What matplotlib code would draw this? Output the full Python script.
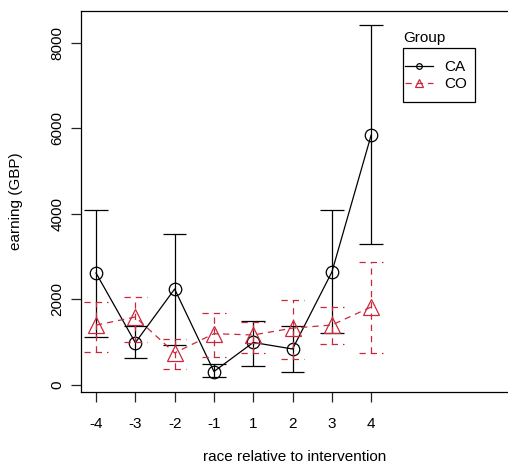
import matplotlib.pyplot as plt
from matplotlib.patches import Rectangle
import numpy as np

plt.rcParams['font.family'] = ['Liberation Sans', 'DejaVu Sans']

# races relative to the intervention
races = ["-4", "-3", "-2", "-1", "1", "2", "3", "4"]

# CA group: mean earning and interval ends
ca_mean = [2620, 990, 2245, 315, 995, 842, 2643, 5848]
ca_lo = [1123, 632, 936, 180, 444, 300, 1216, 3298]
ca_hi = [4094, 1390, 3532, 491, 1497, 1380, 4094, 8421]

# CO group
co_mean = [1400, 1590, 750, 1200, 1170, 1330, 1403, 1825]
co_lo = [772, 1006, 374, 655, 749, 608, 959, 749]
co_hi = [1942, 2058, 1076, 1684, 1470, 1988, 1825, 2877]

red = "#c8283c"
dash = (0, (5, 4))

fig = plt.figure(figsize=(5.08, 4.63), dpi=100)
ax = fig.add_axes([81 / 508, 1 - 392 / 463, 1 - 81 / 508, (392 - 11) / 463])

x = np.arange(1, len(races) + 1)
cap = 0.3

# CA: solid black
ax.vlines(x, ca_lo, ca_hi, color="black", lw=0.9)
ax.hlines(ca_lo, x - cap, x + cap, color="black", lw=0.9)
ax.hlines(ca_hi, x - cap, x + cap, color="black", lw=0.9)
ax.plot(x, ca_mean, color="black", lw=0.9, marker="o", ms=9,
        mfc="none", mec="black", mew=0.9, label="CA")

# CO: dashed red
ax.vlines(x, co_lo, co_hi, color=red, lw=0.9, linestyles=[dash])
ax.hlines(co_lo, x - cap, x + cap, color=red, lw=0.9, linestyles=[dash])
ax.hlines(co_hi, x - cap, x + cap, color=red, lw=0.9, linestyles=[dash])
ax.plot(x, co_mean, color=red, lw=0.9, ls=dash, marker="^", ms=12,
        mfc="none", mec=red, mew=0.9, label="CO")

ax.set_xlim(0.618, 11.48)
ax.set_ylim(-164, 8748)
ax.set_xticks(x)
ax.set_xticklabels(races)
ax.set_yticks([0, 2000, 4000, 6000, 8000])

ax.spines["right"].set_visible(False)
for s in ["top", "left", "bottom"]:
    ax.spines[s].set_linewidth(0.9)
ax.tick_params(axis="both", length=7, width=0.9, labelsize=11, color="#222222")
ax.tick_params(axis="x", pad=11)
ax.tick_params(axis="y", pad=5)
for lab in ax.get_yticklabels():
    lab.set_rotation(90)
    lab.set_va("center")

ax.set_xlabel("race relative to intervention", fontsize=11, labelpad=14)
ax.set_ylabel("earning (GBP)", fontsize=11, labelpad=20)

# legend: title above an R-style box
leg = ax.legend(loc="upper left", bbox_to_anchor=(405 / 508, 1 - 60 / 463),
                bbox_transform=fig.transFigure, borderaxespad=0, borderpad=0,
                frameon=False, fontsize=11, handlelength=1.85,
                handletextpad=0.75, labelspacing=0.2, markerscale=0.45)
fig.patches.append(Rectangle((403 / 508, 1 - 102 / 463), 72 / 508, 54 / 463,
                             transform=fig.transFigure, fill=False,
                             edgecolor="black", lw=0.9))
fig.text(403 / 508, 1 - 42 / 463, "Group", fontsize=11, ha="left", va="baseline")

fig.savefig("out.png", dpi=100)
